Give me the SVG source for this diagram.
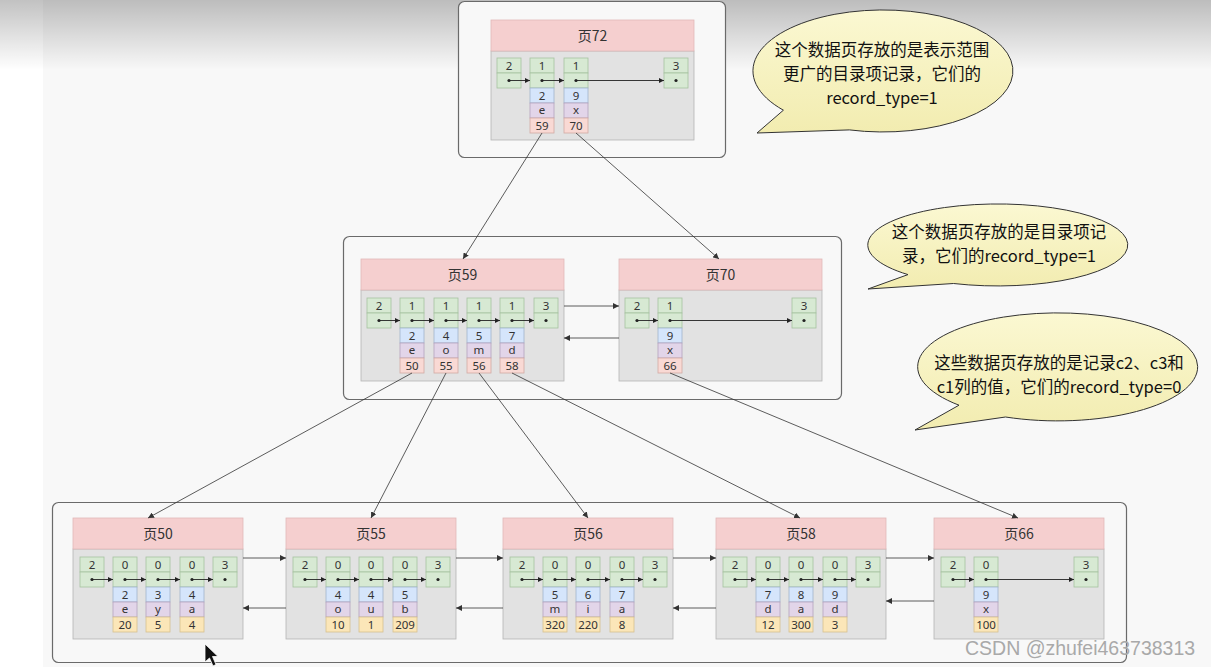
<svg xmlns="http://www.w3.org/2000/svg" width="1211" height="667" viewBox="0 0 1211 667">
<defs>
<linearGradient id="topshade" x1="0" y1="0" x2="0" y2="1">
<stop offset="0" stop-color="#000" stop-opacity="0.24"/>
<stop offset="1" stop-color="#000" stop-opacity="0"/>
</linearGradient>
<linearGradient id="bub" x1="0" y1="0" x2="0" y2="1">
<stop offset="0" stop-color="#fbf8d2"/>
<stop offset="1" stop-color="#f2ecb0"/>
</linearGradient>
<marker id="ah" viewBox="0 0 6 6" refX="6" refY="3" markerWidth="6" markerHeight="6" markerUnits="userSpaceOnUse" orient="auto">
<path d="M0,0 L6,3 L0,6 Z" fill="#333"/>
</marker>
<marker id="ahs" viewBox="0 0 6 6" refX="6" refY="3" markerWidth="5" markerHeight="5" markerUnits="userSpaceOnUse" orient="auto">
<path d="M0,0 L6,3 L0,6 Z" fill="#222"/>
</marker>
</defs>
<style>
.cont{fill:#f8f8f8;stroke:#6a6a6a;stroke-width:1.2}
.hdr{fill:#f5cfcf;stroke:#e0b8b8;stroke-width:0.8}
.body{fill:#e2e2e2;stroke:#b4b4b4;stroke-width:0.8}
.g{fill:#d7e9d3;stroke:#a6c2a0;stroke-width:0.8}
.b{fill:#d5e5fb;stroke:#a0b4cc;stroke-width:0.8}
.p{fill:#e2d5e9;stroke:#b4a2bd;stroke-width:0.8}
.r{fill:#f9d9d4;stroke:#d2aaa4;stroke-width:0.8}
.y{fill:#fbe6b8;stroke:#d6c090;stroke-width:0.8}
.t{font-family:"Noto Sans","Liberation Sans",sans-serif;font-size:11.5px;fill:#333;text-anchor:middle}
.ht{font-family:"Noto Sans CJK SC","Noto Sans",sans-serif;font-size:14px;fill:#333;text-anchor:middle}
.dot{fill:#222}
.in{stroke:#222;stroke-width:0.9;fill:none;marker-end:url(#ahs)}
.ln{stroke:#333;stroke-width:0.8;fill:none;marker-end:url(#ah)}
.bb{fill:url(#bub);stroke:#333;stroke-width:1}
.bt{font-family:"Noto Sans CJK SC","Noto Sans",sans-serif;font-size:16.5px;fill:#111;text-anchor:middle}
.wm{font-family:"Liberation Sans",Arial,sans-serif;font-size:19.5px;fill:#a9a9a9}
</style>

<!-- background -->
<rect x="0" y="0" width="1211" height="667" fill="#f8f8f8"/>
<rect x="0" y="0" width="43" height="667" fill="#ffffff"/>
<rect x="0" y="0" width="1211" height="70" fill="url(#topshade)"/>

<!-- containers -->
<g id="level-top"><rect class="cont" x="458.5" y="1.5" width="267" height="156" rx="6"/></g>
<g id="level-mid"><rect class="cont" x="343.5" y="236.5" width="498" height="163" rx="6"/></g>
<g id="level-leaf"><rect class="cont" x="52.5" y="502.5" width="1074" height="160" rx="6"/></g>

<!-- Page 72 -->
<g id="page72">
<rect class="body" x="491" y="51" width="203" height="89"/>
<rect class="hdr" x="491" y="20" width="203" height="31"/>
<text class="ht" x="592.5" y="40.5">页72</text>
<rect class="g" x="497" y="58" width="24" height="15"/><rect class="g" x="497" y="73" width="24" height="15"/>
<text class="t" x="509" y="69.5">2</text><circle class="dot" cx="509" cy="80.5" r="1.6"/>
<rect class="g" x="530" y="58" width="24" height="15"/><rect class="g" x="530" y="73" width="24" height="15"/>
<rect class="b" x="530" y="88" width="24" height="15"/><rect class="p" x="530" y="103" width="24" height="15"/><rect class="r" x="530" y="118" width="24" height="15"/>
<text class="t" x="542" y="69.5">1</text><circle class="dot" cx="542" cy="80.5" r="1.6"/>
<text class="t" x="542" y="99.5">2</text><text class="t" x="542" y="114">e</text><text class="t" x="542" y="129.5">59</text>
<rect class="g" x="564" y="58" width="24" height="15"/><rect class="g" x="564" y="73" width="24" height="15"/>
<rect class="b" x="564" y="88" width="24" height="15"/><rect class="p" x="564" y="103" width="24" height="15"/><rect class="r" x="564" y="118" width="24" height="15"/>
<text class="t" x="576" y="69.5">1</text><circle class="dot" cx="576" cy="80.5" r="1.6"/>
<text class="t" x="576" y="99.5">9</text><text class="t" x="576" y="114">x</text><text class="t" x="576" y="129.5">70</text>
<rect class="g" x="664" y="58" width="24" height="15"/><rect class="g" x="664" y="73" width="24" height="15"/>
<text class="t" x="676" y="69.5">3</text><circle class="dot" cx="676" cy="80.5" r="1.6"/>
<line class="in" x1="509" y1="80.5" x2="530" y2="80.5"/>
<line class="in" x1="542" y1="80.5" x2="564" y2="80.5"/>
<line class="in" x1="576" y1="80.5" x2="664" y2="80.5"/>
</g>

<!-- Page 59 -->
<g id="page59">
<rect class="body" x="361" y="290" width="203" height="91"/>
<rect class="hdr" x="361" y="259" width="203" height="31"/>
<text class="ht" x="462.5" y="280">页59</text>
<rect class="g" x="367" y="298" width="24" height="15"/><rect class="g" x="367" y="313" width="24" height="15"/>
<text class="t" x="379" y="309.5">2</text><circle class="dot" cx="379" cy="320.5" r="1.6"/>
<rect class="g" x="400" y="298" width="24" height="15"/><rect class="g" x="400" y="313" width="24" height="15"/>
<rect class="b" x="400" y="328" width="24" height="15"/><rect class="p" x="400" y="343" width="24" height="15"/><rect class="r" x="400" y="358" width="24" height="15"/>
<text class="t" x="412" y="309.5">1</text><circle class="dot" cx="412" cy="320.5" r="1.6"/>
<text class="t" x="412" y="339.5">2</text><text class="t" x="412" y="354">e</text><text class="t" x="412" y="369.5">50</text>
<rect class="g" x="434" y="298" width="24" height="15"/><rect class="g" x="434" y="313" width="24" height="15"/>
<rect class="b" x="434" y="328" width="24" height="15"/><rect class="p" x="434" y="343" width="24" height="15"/><rect class="r" x="434" y="358" width="24" height="15"/>
<text class="t" x="446" y="309.5">1</text><circle class="dot" cx="446" cy="320.5" r="1.6"/>
<text class="t" x="446" y="339.5">4</text><text class="t" x="446" y="354">o</text><text class="t" x="446" y="369.5">55</text>
<rect class="g" x="467" y="298" width="24" height="15"/><rect class="g" x="467" y="313" width="24" height="15"/>
<rect class="b" x="467" y="328" width="24" height="15"/><rect class="p" x="467" y="343" width="24" height="15"/><rect class="r" x="467" y="358" width="24" height="15"/>
<text class="t" x="479" y="309.5">1</text><circle class="dot" cx="479" cy="320.5" r="1.6"/>
<text class="t" x="479" y="339.5">5</text><text class="t" x="479" y="354">m</text><text class="t" x="479" y="369.5">56</text>
<rect class="g" x="500" y="298" width="24" height="15"/><rect class="g" x="500" y="313" width="24" height="15"/>
<rect class="b" x="500" y="328" width="24" height="15"/><rect class="p" x="500" y="343" width="24" height="15"/><rect class="r" x="500" y="358" width="24" height="15"/>
<text class="t" x="512" y="309.5">1</text><circle class="dot" cx="512" cy="320.5" r="1.6"/>
<text class="t" x="512" y="339.5">7</text><text class="t" x="512" y="354">d</text><text class="t" x="512" y="369.5">58</text>
<rect class="g" x="534" y="298" width="24" height="15"/><rect class="g" x="534" y="313" width="24" height="15"/>
<text class="t" x="546" y="309.5">3</text><circle class="dot" cx="546" cy="320.5" r="1.6"/>
<line class="in" x1="379" y1="320.5" x2="400" y2="320.5"/>
<line class="in" x1="412" y1="320.5" x2="434" y2="320.5"/>
<line class="in" x1="446" y1="320.5" x2="467" y2="320.5"/>
<line class="in" x1="479" y1="320.5" x2="500" y2="320.5"/>
<line class="in" x1="512" y1="320.5" x2="534" y2="320.5"/>
</g>

<!-- Page 70 -->
<g id="page70">
<rect class="body" x="619" y="290" width="203" height="91"/>
<rect class="hdr" x="619" y="259" width="203" height="31"/>
<text class="ht" x="720.5" y="280">页70</text>
<rect class="g" x="625" y="298" width="24" height="15"/><rect class="g" x="625" y="313" width="24" height="15"/>
<text class="t" x="637" y="309.5">2</text><circle class="dot" cx="637" cy="320.5" r="1.6"/>
<rect class="g" x="658" y="298" width="24" height="15"/><rect class="g" x="658" y="313" width="24" height="15"/>
<rect class="b" x="658" y="328" width="24" height="15"/><rect class="p" x="658" y="343" width="24" height="15"/><rect class="r" x="658" y="358" width="24" height="15"/>
<text class="t" x="670" y="309.5">1</text><circle class="dot" cx="670" cy="320.5" r="1.6"/>
<text class="t" x="670" y="339.5">9</text><text class="t" x="670" y="354">x</text><text class="t" x="670" y="369.5">66</text>
<rect class="g" x="792" y="298" width="24" height="15"/><rect class="g" x="792" y="313" width="24" height="15"/>
<text class="t" x="804" y="309.5">3</text><circle class="dot" cx="804" cy="320.5" r="1.6"/>
<line class="in" x1="637" y1="320.5" x2="658" y2="320.5"/>
<line class="in" x1="670" y1="320.5" x2="792" y2="320.5"/>
</g>

<!-- Page 50 -->
<g id="page50">
<rect class="body" x="73" y="549" width="170" height="90"/>
<rect class="hdr" x="73" y="518" width="170" height="31"/>
<text class="ht" x="158" y="539">页50</text>
<rect class="g" x="80" y="557" width="24" height="15"/><rect class="g" x="80" y="572" width="24" height="15"/>
<text class="t" x="92" y="568.5">2</text><circle class="dot" cx="92" cy="579.5" r="1.6"/>
<rect class="g" x="113" y="557" width="24" height="15"/><rect class="g" x="113" y="572" width="24" height="15"/>
<rect class="b" x="113" y="587" width="24" height="15"/><rect class="p" x="113" y="602" width="24" height="15"/><rect class="y" x="113" y="617" width="24" height="15"/>
<text class="t" x="125" y="568.5">0</text><circle class="dot" cx="125" cy="579.5" r="1.6"/>
<text class="t" x="125" y="598.5">2</text><text class="t" x="125" y="613">e</text><text class="t" x="125" y="628.5">20</text>
<rect class="g" x="146" y="557" width="24" height="15"/><rect class="g" x="146" y="572" width="24" height="15"/>
<rect class="b" x="146" y="587" width="24" height="15"/><rect class="p" x="146" y="602" width="24" height="15"/><rect class="y" x="146" y="617" width="24" height="15"/>
<text class="t" x="158" y="568.5">0</text><circle class="dot" cx="158" cy="579.5" r="1.6"/>
<text class="t" x="158" y="598.5">3</text><text class="t" x="158" y="613">y</text><text class="t" x="158" y="628.5">5</text>
<rect class="g" x="180" y="557" width="24" height="15"/><rect class="g" x="180" y="572" width="24" height="15"/>
<rect class="b" x="180" y="587" width="24" height="15"/><rect class="p" x="180" y="602" width="24" height="15"/><rect class="y" x="180" y="617" width="24" height="15"/>
<text class="t" x="192" y="568.5">0</text><circle class="dot" cx="192" cy="579.5" r="1.6"/>
<text class="t" x="192" y="598.5">4</text><text class="t" x="192" y="613">a</text><text class="t" x="192" y="628.5">4</text>
<rect class="g" x="213" y="557" width="24" height="15"/><rect class="g" x="213" y="572" width="24" height="15"/>
<text class="t" x="225" y="568.5">3</text><circle class="dot" cx="225" cy="579.5" r="1.6"/>
<line class="in" x1="92" y1="579.5" x2="113" y2="579.5"/>
<line class="in" x1="125" y1="579.5" x2="146" y2="579.5"/>
<line class="in" x1="158" y1="579.5" x2="180" y2="579.5"/>
<line class="in" x1="192" y1="579.5" x2="213" y2="579.5"/>
</g>

<!-- Page 55 -->
<g id="page55">
<rect class="body" x="286" y="549" width="170" height="90"/>
<rect class="hdr" x="286" y="518" width="170" height="31"/>
<text class="ht" x="371" y="539">页55</text>
<rect class="g" x="293" y="557" width="24" height="15"/><rect class="g" x="293" y="572" width="24" height="15"/>
<text class="t" x="305" y="568.5">2</text><circle class="dot" cx="305" cy="579.5" r="1.6"/>
<rect class="g" x="326" y="557" width="24" height="15"/><rect class="g" x="326" y="572" width="24" height="15"/>
<rect class="b" x="326" y="587" width="24" height="15"/><rect class="p" x="326" y="602" width="24" height="15"/><rect class="y" x="326" y="617" width="24" height="15"/>
<text class="t" x="338" y="568.5">0</text><circle class="dot" cx="338" cy="579.5" r="1.6"/>
<text class="t" x="338" y="598.5">4</text><text class="t" x="338" y="613">o</text><text class="t" x="338" y="628.5">10</text>
<rect class="g" x="359" y="557" width="24" height="15"/><rect class="g" x="359" y="572" width="24" height="15"/>
<rect class="b" x="359" y="587" width="24" height="15"/><rect class="p" x="359" y="602" width="24" height="15"/><rect class="y" x="359" y="617" width="24" height="15"/>
<text class="t" x="371" y="568.5">0</text><circle class="dot" cx="371" cy="579.5" r="1.6"/>
<text class="t" x="371" y="598.5">4</text><text class="t" x="371" y="613">u</text><text class="t" x="371" y="628.5">1</text>
<rect class="g" x="393" y="557" width="24" height="15"/><rect class="g" x="393" y="572" width="24" height="15"/>
<rect class="b" x="393" y="587" width="24" height="15"/><rect class="p" x="393" y="602" width="24" height="15"/><rect class="y" x="393" y="617" width="24" height="15"/>
<text class="t" x="405" y="568.5">0</text><circle class="dot" cx="405" cy="579.5" r="1.6"/>
<text class="t" x="405" y="598.5">5</text><text class="t" x="405" y="613">b</text><text class="t" x="405" y="628.5">209</text>
<rect class="g" x="426" y="557" width="24" height="15"/><rect class="g" x="426" y="572" width="24" height="15"/>
<text class="t" x="438" y="568.5">3</text><circle class="dot" cx="438" cy="579.5" r="1.6"/>
<line class="in" x1="305" y1="579.5" x2="326" y2="579.5"/>
<line class="in" x1="338" y1="579.5" x2="359" y2="579.5"/>
<line class="in" x1="371" y1="579.5" x2="393" y2="579.5"/>
<line class="in" x1="405" y1="579.5" x2="426" y2="579.5"/>
</g>

<!-- Page 56 -->
<g id="page56">
<rect class="body" x="503" y="549" width="170" height="90"/>
<rect class="hdr" x="503" y="518" width="170" height="31"/>
<text class="ht" x="588" y="539">页56</text>
<rect class="g" x="510" y="557" width="24" height="15"/><rect class="g" x="510" y="572" width="24" height="15"/>
<text class="t" x="522" y="568.5">2</text><circle class="dot" cx="522" cy="579.5" r="1.6"/>
<rect class="g" x="543" y="557" width="24" height="15"/><rect class="g" x="543" y="572" width="24" height="15"/>
<rect class="b" x="543" y="587" width="24" height="15"/><rect class="p" x="543" y="602" width="24" height="15"/><rect class="y" x="543" y="617" width="24" height="15"/>
<text class="t" x="555" y="568.5">0</text><circle class="dot" cx="555" cy="579.5" r="1.6"/>
<text class="t" x="555" y="598.5">5</text><text class="t" x="555" y="613">m</text><text class="t" x="555" y="628.5">320</text>
<rect class="g" x="576" y="557" width="24" height="15"/><rect class="g" x="576" y="572" width="24" height="15"/>
<rect class="b" x="576" y="587" width="24" height="15"/><rect class="p" x="576" y="602" width="24" height="15"/><rect class="y" x="576" y="617" width="24" height="15"/>
<text class="t" x="588" y="568.5">0</text><circle class="dot" cx="588" cy="579.5" r="1.6"/>
<text class="t" x="588" y="598.5">6</text><text class="t" x="588" y="613">i</text><text class="t" x="588" y="628.5">220</text>
<rect class="g" x="610" y="557" width="24" height="15"/><rect class="g" x="610" y="572" width="24" height="15"/>
<rect class="b" x="610" y="587" width="24" height="15"/><rect class="p" x="610" y="602" width="24" height="15"/><rect class="y" x="610" y="617" width="24" height="15"/>
<text class="t" x="622" y="568.5">0</text><circle class="dot" cx="622" cy="579.5" r="1.6"/>
<text class="t" x="622" y="598.5">7</text><text class="t" x="622" y="613">a</text><text class="t" x="622" y="628.5">8</text>
<rect class="g" x="643" y="557" width="24" height="15"/><rect class="g" x="643" y="572" width="24" height="15"/>
<text class="t" x="655" y="568.5">3</text><circle class="dot" cx="655" cy="579.5" r="1.6"/>
<line class="in" x1="522" y1="579.5" x2="543" y2="579.5"/>
<line class="in" x1="555" y1="579.5" x2="576" y2="579.5"/>
<line class="in" x1="588" y1="579.5" x2="610" y2="579.5"/>
<line class="in" x1="622" y1="579.5" x2="643" y2="579.5"/>
</g>

<!-- Page 58 -->
<g id="page58">
<rect class="body" x="716" y="549" width="170" height="90"/>
<rect class="hdr" x="716" y="518" width="170" height="31"/>
<text class="ht" x="801" y="539">页58</text>
<rect class="g" x="723" y="557" width="24" height="15"/><rect class="g" x="723" y="572" width="24" height="15"/>
<text class="t" x="735" y="568.5">2</text><circle class="dot" cx="735" cy="579.5" r="1.6"/>
<rect class="g" x="756" y="557" width="24" height="15"/><rect class="g" x="756" y="572" width="24" height="15"/>
<rect class="b" x="756" y="587" width="24" height="15"/><rect class="p" x="756" y="602" width="24" height="15"/><rect class="y" x="756" y="617" width="24" height="15"/>
<text class="t" x="768" y="568.5">0</text><circle class="dot" cx="768" cy="579.5" r="1.6"/>
<text class="t" x="768" y="598.5">7</text><text class="t" x="768" y="613">d</text><text class="t" x="768" y="628.5">12</text>
<rect class="g" x="789" y="557" width="24" height="15"/><rect class="g" x="789" y="572" width="24" height="15"/>
<rect class="b" x="789" y="587" width="24" height="15"/><rect class="p" x="789" y="602" width="24" height="15"/><rect class="y" x="789" y="617" width="24" height="15"/>
<text class="t" x="801" y="568.5">0</text><circle class="dot" cx="801" cy="579.5" r="1.6"/>
<text class="t" x="801" y="598.5">8</text><text class="t" x="801" y="613">a</text><text class="t" x="801" y="628.5">300</text>
<rect class="g" x="823" y="557" width="24" height="15"/><rect class="g" x="823" y="572" width="24" height="15"/>
<rect class="b" x="823" y="587" width="24" height="15"/><rect class="p" x="823" y="602" width="24" height="15"/><rect class="y" x="823" y="617" width="24" height="15"/>
<text class="t" x="835" y="568.5">0</text><circle class="dot" cx="835" cy="579.5" r="1.6"/>
<text class="t" x="835" y="598.5">9</text><text class="t" x="835" y="613">d</text><text class="t" x="835" y="628.5">3</text>
<rect class="g" x="856" y="557" width="24" height="15"/><rect class="g" x="856" y="572" width="24" height="15"/>
<text class="t" x="868" y="568.5">3</text><circle class="dot" cx="868" cy="579.5" r="1.6"/>
<line class="in" x1="735" y1="579.5" x2="756" y2="579.5"/>
<line class="in" x1="768" y1="579.5" x2="789" y2="579.5"/>
<line class="in" x1="801" y1="579.5" x2="823" y2="579.5"/>
<line class="in" x1="835" y1="579.5" x2="856" y2="579.5"/>
</g>

<!-- Page 66 -->
<g id="page66">
<rect class="body" x="934" y="549" width="170" height="90"/>
<rect class="hdr" x="934" y="518" width="170" height="31"/>
<text class="ht" x="1019" y="539">页66</text>
<rect class="g" x="941" y="557" width="24" height="15"/><rect class="g" x="941" y="572" width="24" height="15"/>
<text class="t" x="953" y="568.5">2</text><circle class="dot" cx="953" cy="579.5" r="1.6"/>
<rect class="g" x="974" y="557" width="24" height="15"/><rect class="g" x="974" y="572" width="24" height="15"/>
<rect class="b" x="974" y="587" width="24" height="15"/><rect class="p" x="974" y="602" width="24" height="15"/><rect class="y" x="974" y="617" width="24" height="15"/>
<text class="t" x="986" y="568.5">0</text><circle class="dot" cx="986" cy="579.5" r="1.6"/>
<text class="t" x="986" y="598.5">9</text><text class="t" x="986" y="613">x</text><text class="t" x="986" y="628.5">100</text>
<rect class="g" x="1074" y="557" width="24" height="15"/><rect class="g" x="1074" y="572" width="24" height="15"/>
<text class="t" x="1086" y="568.5">3</text><circle class="dot" cx="1086" cy="579.5" r="1.6"/>
<line class="in" x1="953" y1="579.5" x2="974" y2="579.5"/>
<line class="in" x1="986" y1="579.5" x2="1074" y2="579.5"/>
</g>

<!-- connectors -->
<g id="connectors">
<line class="ln" x1="542" y1="133" x2="463" y2="259"/>
<line class="ln" x1="576" y1="133" x2="719" y2="259"/>
<line class="ln" x1="564" y1="306" x2="619" y2="306"/>
<line class="ln" x1="619" y1="338" x2="564" y2="338"/>
<line class="ln" x1="412" y1="373" x2="148" y2="518"/>
<line class="ln" x1="446" y1="373" x2="371" y2="518"/>
<line class="ln" x1="479" y1="373" x2="588" y2="518"/>
<line class="ln" x1="512" y1="373" x2="800" y2="518"/>
<line class="ln" x1="670" y1="373" x2="1018" y2="518"/>
<line class="ln" x1="243" y1="558" x2="286" y2="558"/>
<line class="ln" x1="286" y1="608" x2="243" y2="608"/>
<line class="ln" x1="456" y1="558" x2="503" y2="558"/>
<line class="ln" x1="503" y1="608" x2="456" y2="608"/>
<line class="ln" x1="673" y1="558" x2="716" y2="558"/>
<line class="ln" x1="716" y1="608" x2="673" y2="608"/>
<line class="ln" x1="886" y1="558" x2="934" y2="558"/>
<line class="ln" x1="934" y1="601" x2="886" y2="601"/>
</g>

<!-- callouts -->
<g id="callout1">
<path class="bb" d="M849.4,129.9 A130 61 0 1 0 783.4,110.2 L757,133 Z"/>
<text class="bt" x="882" y="56">这个数据页存放的是表示范围</text>
<text class="bt" x="882" y="80">更广的目录项记录，它们的</text>
<text class="bt" x="882" y="104">record_type=1</text>
</g>
<g id="callout2">
<path class="bb" d="M953.5,283.5 A130 41 0 1 0 908,274.6 L868,289 Z"/>
<text class="bt" x="999" y="238">这个数据页存放的是目录项记</text>
<text class="bt" x="999" y="262">录，它们的record_type=1</text>
</g>
<g id="callout3">
<path class="bb" d="M1005.5,417 A140 54 0 1 0 959,405.2 L915,430 Z"/>
<text class="bt" x="1059" y="369">这些数据页存放的是记录c2、c3和</text>
<text class="bt" x="1059" y="393">c1列的值，它们的record_type=0</text>
</g>

<text class="wm" x="965" y="655">CSDN @zhufei463738313</text>
<polygon points="205,644 205,662 209.5,658 213,666 216,664.5 212.5,656.5 218,656.5" fill="#111" stroke="#fff" stroke-width="0.8"/>
</svg>
